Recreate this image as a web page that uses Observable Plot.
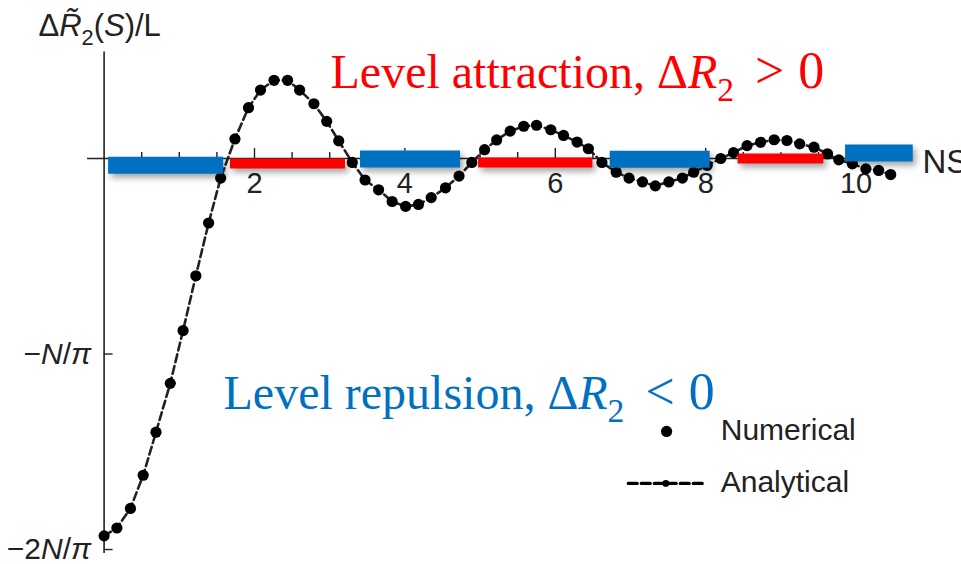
<!DOCTYPE html>
<html>
<head>
<meta charset="utf-8">
<script src="https://cdn.jsdelivr.net/npm/d3@7"></script>
<script src="https://cdn.jsdelivr.net/npm/@observablehq/plot@0.6"></script>
<style>
  html, body { margin: 0; padding: 0; background: #fff; }
  #chart svg { display: block; }
</style>
</head>
<body>
<div id="chart"></div>
<script>
// ---- data (y in units of N/π) ----
const ns = [0.00, 0.17, 0.35, 0.52, 0.69, 0.88, 1.05, 1.22, 1.39, 1.55,
            1.74, 1.92, 2.08, 2.26, 2.44, 2.60, 2.79, 2.96, 3.12, 3.30,
            3.47, 3.65, 3.83, 4.01, 4.18, 4.35, 4.54, 4.72, 4.89, 5.06,
            5.22, 5.40, 5.58, 5.75, 5.94, 6.11, 6.29, 6.44, 6.62, 6.81,
            6.98, 7.16, 7.33, 7.51, 7.69, 7.84, 8.02, 8.20, 8.37, 8.55,
            8.73, 8.91, 9.08, 9.25, 9.44, 9.62, 9.77, 9.95, 10.13, 10.30, 10.46];
const numerical = [-1.93, -1.89, -1.79, -1.62, -1.40, -1.15, -0.88, -0.60, -0.33, -0.10,
            0.10, 0.26, 0.35, 0.40, 0.40, 0.35, 0.28, 0.19, 0.09, -0.02,
            -0.11, -0.16, -0.22, -0.245, -0.235, -0.20, -0.15, -0.09, -0.02, 0.045,
            0.095, 0.14, 0.165, 0.17, 0.147, 0.118, 0.084, 0.05, -0.02, -0.07,
            -0.10, -0.12, -0.14, -0.12, -0.10, -0.07, -0.035, 0.0, 0.03, 0.066,
            0.083, 0.096, 0.092, 0.075, 0.058, 0.024, -0.007, -0.027, -0.053, -0.061, -0.082];
// analytical curve follows the numerical points in the picture
const analytical = numerical.slice();

// level repulsion (blue) and attraction (red) intervals of NS, with their level
const repulsionFrom  = [0.06, 3.41, 6.73, 9.86];
const repulsionTo    = [1.59, 4.74, 8.06, 10.76];
const repulsionLevel = [-0.034, -0.003, -0.004, 0.028];
const attractionFrom  = [1.68, 4.98, 8.43];
const attractionTo    = [3.21, 6.50, 9.57];
const attractionLevel = [-0.025, -0.02, 0.0];

const xMajorTicks = [2, 4, 6, 8, 10];
const xMinorTicks = [0.5, 1, 1.5, 2.5, 3, 3.5, 4.5, 5, 5.5, 6.5, 7, 7.5, 8.5, 9, 9.5, 10.5];
const yTicks = [-1, -2];
const yTickLabels = ["−N/π", "−2N/π"];

// ---- build tables ----
const pts = ns.map((x, i) => ({x, num: numerical[i], ana: analytical[i]}));
const repulsion = repulsionFrom.map((f, i) => ({from: f, to: repulsionTo[i], level: repulsionLevel[i]}));
const attraction = attractionFrom.map((f, i) => ({from: f, to: attractionTo[i], level: attractionLevel[i]}));

const W = 961, H = 564;
const ML = 103.6, MR = 30.2, MT = 40.7, MB = 5.2;
const yDom = [-2.05, 0.6];
const kY = (H - MT - MB) / (yDom[1] - yDom[0]);   // px per y unit
const kX = (W - ML - MR) / 11;                     // px per x unit
const BLUE = "#0070C0", RED = "#FF0000", INK = "#222";
const SERIF = "'Liberation Serif', 'Times New Roman', serif";

const plot = Plot.plot({
  width: W, height: H,
  marginLeft: ML, marginRight: MR, marginTop: MT, marginBottom: MB,
  x: {domain: [0, 11], axis: null},
  y: {domain: yDom, axis: null},
  style: {fontFamily: "'Liberation Sans', Arial, sans-serif", fontSize: "28px", background: "#fff", overflow: "visible", color: INK},
  marks: [
    // axes
    Plot.ruleY([0], {x1: -0.22, x2: 10.75, stroke: INK, strokeWidth: 1.6}),
    Plot.ruleX([0], {y1: -2.02, y2: 0.545, stroke: INK, strokeWidth: 1.6}),
    Plot.ruleX(xMinorTicks, {x: d => d, y1: 0, y2: 6 / kY, stroke: INK, strokeWidth: 1.4}),
    Plot.ruleX(xMajorTicks, {x: d => d, y1: 0, y2: 10 / kY, stroke: INK, strokeWidth: 1.4}),
    Plot.ruleY(yTicks, {y: d => d, x1: 0, x2: 9 / kX, stroke: INK, strokeWidth: 1.4}),
    Plot.text(xMajorTicks, {x: d => d, y: 0, dy: 25, text: d => String(d), fontSize: 29, fill: INK}),
    Plot.text(yTicks, {x: 0, y: d => d, text: (d, i) => yTickLabels[i], textAnchor: "end", dx: -13, dy: 0, fontSize: 30, fill: INK, ariaDescription: "rich"}),
    Plot.text(["ΔR2(S)/L"], {x: 0, y: yDom[1], text: d => d, textAnchor: "start", lineAnchor: "bottom", dx: 38 - ML, dy: -5, fontSize: 31, fill: INK, ariaDescription: "rich"}),
    Plot.text(["NS"], {x: 0, y: 0, text: d => d, textAnchor: "start", lineAnchor: "bottom", dx: 922 - ML, dy: 14, fontSize: 33, fill: INK}),

    // analytical (dashed) and numerical (dots)
    Plot.line(pts, {x: "x", y: "ana", stroke: INK, strokeWidth: 2.6, strokeDasharray: "8,4"}),
    Plot.dot(pts, {x: "x", y: "num", r: 5.6, fill: "#000", stroke: "none"}),

    // shaded bars
    Plot.ruleY(repulsion, {y: "level", x1: "from", x2: "to", stroke: BLUE, strokeWidth: 17, ariaDescription: "bands"}),
    Plot.ruleY(attraction, {y: "level", x1: "from", x2: "to", stroke: RED, strokeWidth: 10, ariaDescription: "bands"}),

    // annotations
    Plot.text(["Level attraction, ΔR2 > 0"], {x: 0, y: 0, text: d => d, textAnchor: "start", lineAnchor: "bottom", dx: 330 - ML, dy: 87 - 158, fontSize: 48, fontFamily: SERIF, fill: RED, ariaDescription: "rich"}),
    Plot.text(["Level repulsion, ΔR2 < 0"], {x: 0, y: 0, text: d => d, textAnchor: "start", lineAnchor: "bottom", dx: 223 - ML, dy: 408 - 158, fontSize: 48, fontFamily: SERIF, fill: BLUE, ariaDescription: "rich"}),

    // legend
    Plot.dot([0], {x: 7.48, y: -1.396, r: 5.6, fill: "#000"}),
    Plot.line([6.97, 7.96], {x: d => d, y: -1.662, stroke: "#000", strokeWidth: 3.2, strokeDasharray: "9,4"}),
    Plot.dot([0], {x: 7.47, y: -1.662, r: 3.4, fill: "#000"}),
    Plot.text(["Numerical"], {x: 8.2, y: -1.391, text: d => d, textAnchor: "start", fontSize: 30, fill: INK}),
    Plot.text(["Analytical"], {x: 8.2, y: -1.657, text: d => d, textAnchor: "start", fontSize: 30, fill: INK})
  ]
});

document.getElementById("chart").appendChild(plot);

// drop shadow on the bars
d3.select(plot).selectAll('g[aria-description="bands"]')
  .style("filter", "drop-shadow(3px 4px 3px rgba(0,0,0,0.35))");

// rich text (italic, subscripts)
const SVGNS = "http://www.w3.org/2000/svg";
const rich = {
  "ΔR2(S)/L": [["Δ"], ["R\u0303", "i"], ["2", "sub"], ["("], ["S", "i"], [")/L"]],
  "−N/π": [["−"], ["N", "i"], ["/"], ["π", "i"]],
  "−2N/π": [["−2"], ["N", "i"], ["/"], ["π", "i"]],
  "Level attraction, ΔR2 > 0": [["Level attraction, "], ["Δ"], ["R", "i"], ["2", "sub"], [">", "m", 21], ["0", "m", 14]],
  "Level repulsion, ΔR2 < 0": [["Level repulsion, "], ["Δ"], ["R", "i"], ["2", "sub"], ["<", "m", 21], ["0", "m", 14]]
};
d3.select(plot).selectAll('g[aria-description="rich"] text').each(function() {
  const spec = rich[this.textContent];
  if (!spec) return;
  const fs = parseFloat(getComputedStyle(this).fontSize);
  while (this.firstChild) this.removeChild(this.firstChild);
  let shifted = 0;
  for (const [t, kind = "", dx = 0] of spec) {
    const ts = document.createElementNS(SVGNS, "tspan");
    ts.textContent = t;
    let size = fs;
    if (kind.startsWith("m")) size = fs * 1.08;
    if (kind.includes("i")) ts.setAttribute("font-style", "italic");
    let dy = 0;
    if (kind.includes("sub")) {
      ts.setAttribute("font-size", size * 0.7);
      dy = size * 0.28 - shifted; shifted = size * 0.28;
    } else {
      ts.setAttribute("font-size", size);
      dy = -shifted; shifted = 0;
    }
    if (dy) ts.setAttribute("dy", dy);
    if (dx) ts.setAttribute("dx", dx);
    this.appendChild(ts);
  }
});
</script>
</body>
</html>
